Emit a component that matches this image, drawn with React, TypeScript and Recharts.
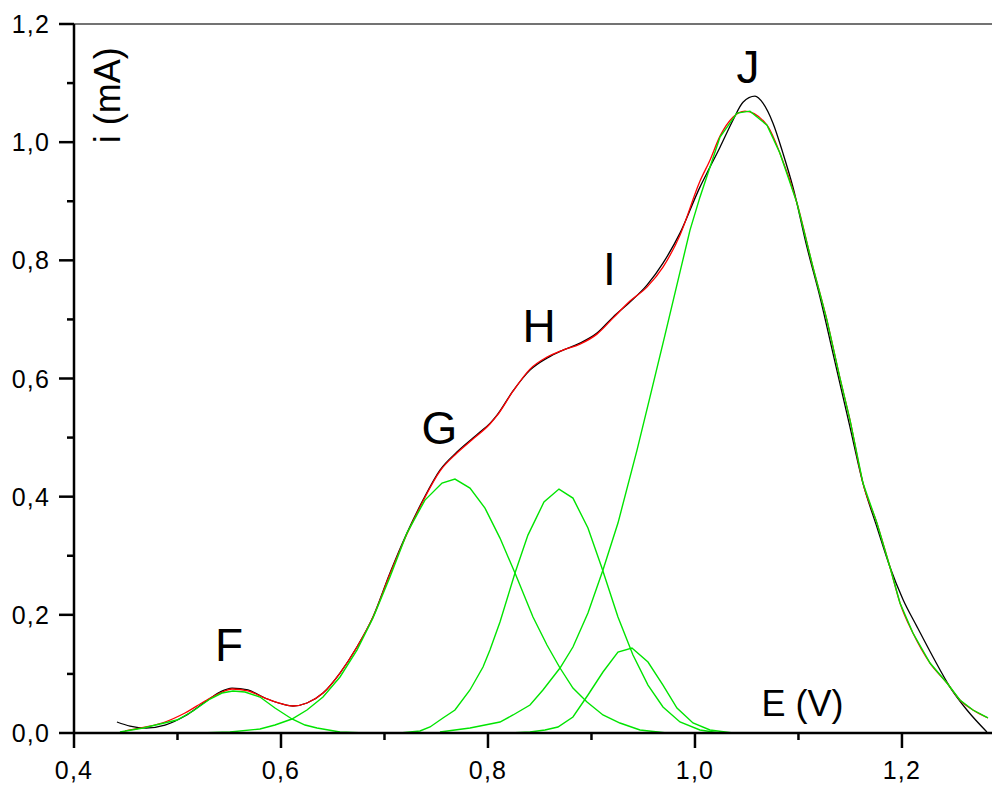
import { LineChart, Line, XAxis, YAxis, ReferenceLine, ReferenceDot } from 'recharts';

// tick positions
const xMajor = [0.4, 0.6, 0.8, 1.0, 1.2];
const xTicks = [0.4, 0.5, 0.6, 0.7, 0.8, 0.9, 1.0, 1.1, 1.2];
const yMajor = [0, 0.2, 0.4, 0.6, 0.8, 1.0, 1.2];
const yTicks = [0, 0.1, 0.2, 0.3, 0.4, 0.5, 0.6, 0.7, 0.8, 0.9, 1.0, 1.1, 1.2];

// experimental voltammogram (black)
const expE = [0.4415, 0.4541, 0.4696, 0.4879, 0.5072, 0.5266, 0.5411, 0.5527, 0.5681, 0.5845, 0.601, 0.6116, 0.6251, 0.6406, 0.657, 0.6734, 0.6889, 0.7053, 0.7217, 0.7372, 0.7536, 0.77, 0.7855, 0.7923, 0.8019, 0.8087, 0.8242, 0.8406, 0.857, 0.8725, 0.8889, 0.9053, 0.9208, 0.9372, 0.9536, 0.9691, 0.9855, 1.0048, 1.0145, 1.0242, 1.0367, 1.0464, 1.058, 1.0657, 1.0754, 1.085, 1.0947, 1.1082, 1.1208, 1.1333, 1.1498, 1.1623, 1.1758, 1.1884, 1.201, 1.2145, 1.23, 1.2464, 1.2628, 1.2821];
const expI = [0.0186, 0.0118, 0.0085, 0.0135, 0.0288, 0.0525, 0.0694, 0.0761, 0.0728, 0.0592, 0.0491, 0.0457, 0.0508, 0.0677, 0.1015, 0.1455, 0.1963, 0.2707, 0.3384, 0.3942, 0.445, 0.4755, 0.4992, 0.5093, 0.524, 0.538, 0.579, 0.6142, 0.6345, 0.6481, 0.6599, 0.6768, 0.7039, 0.7293, 0.758, 0.7953, 0.846, 0.9239, 0.9577, 0.9915, 1.0372, 1.0677, 1.0778, 1.066, 1.0321, 0.9814, 0.9239, 0.8223, 0.7377, 0.643, 0.5178, 0.423, 0.3486, 0.2809, 0.226, 0.18, 0.1286, 0.0778, 0.0389, 0.0017];

// fitted sum (red)
const fitE = [0.4493, 0.4696, 0.4879, 0.5072, 0.5266, 0.5411, 0.5527, 0.5681, 0.5845, 0.601, 0.6116, 0.6251, 0.6406, 0.657, 0.6734, 0.6889, 0.7053, 0.7217, 0.7372, 0.7536, 0.77, 0.7855, 0.8019, 0.8087, 0.8242, 0.8406, 0.857, 0.8725, 0.8889, 0.9053, 0.9208, 0.9372, 0.9536, 0.9691, 0.9855, 1.0048, 1.0145, 1.0242, 1.0367, 1.0483, 1.0696, 1.0821, 1.0986, 1.114, 1.1275, 1.1401, 1.1498, 1.1623, 1.1758, 1.1884, 1.1981, 1.2106, 1.2271, 1.2435, 1.256, 1.2686, 1.2831];
const fitI = [0.0034, 0.0102, 0.0186, 0.0338, 0.0541, 0.0677, 0.0745, 0.0711, 0.0592, 0.0491, 0.0457, 0.0508, 0.0677, 0.1015, 0.1455, 0.1963, 0.269, 0.3367, 0.3926, 0.4433, 0.4738, 0.4975, 0.523, 0.537, 0.5785, 0.6159, 0.6362, 0.6481, 0.6582, 0.6751, 0.7022, 0.731, 0.7547, 0.7885, 0.8426, 0.934, 0.9695, 1.0102, 1.0423, 1.0525, 1.0288, 0.9814, 0.8968, 0.7885, 0.6988, 0.6007, 0.5296, 0.423, 0.3553, 0.2809, 0.22, 0.1692, 0.1184, 0.0846, 0.0558, 0.0389, 0.0254];

// deconvoluted peaks (green)
const peakF_E = [0.4444, 0.4667, 0.4831, 0.4995, 0.515, 0.5314, 0.543, 0.5536, 0.5652, 0.5797, 0.5942, 0.6106, 0.6232, 0.6348, 0.657, 0.6812];
const peakF_I = [0.0017, 0.0085, 0.0152, 0.022, 0.0372, 0.0575, 0.0677, 0.0711, 0.0694, 0.0609, 0.0423, 0.0237, 0.0135, 0.0085, 0.0017, 0];

const peakG_E = [0.5217, 0.5507, 0.5797, 0.5942, 0.6106, 0.6251, 0.6406, 0.657, 0.6734, 0.6889, 0.7053, 0.7217, 0.7391, 0.7556, 0.7681, 0.7826, 0.7971, 0.8116, 0.8261, 0.8435, 0.857, 0.8696, 0.8821, 0.8957, 0.9111, 0.9275, 0.9469, 0.9729];
const peakG_I = [0, 0.0017, 0.0068, 0.0135, 0.0237, 0.0389, 0.0609, 0.0948, 0.1404, 0.1946, 0.264, 0.3384, 0.3942, 0.423, 0.4298, 0.4146, 0.3807, 0.3299, 0.2707, 0.1963, 0.1489, 0.11, 0.0761, 0.0525, 0.0305, 0.0169, 0.0051, 0];

const peakH_E = [0.715, 0.7343, 0.744, 0.7565, 0.7681, 0.7826, 0.7952, 0.8019, 0.8116, 0.8261, 0.8386, 0.8541, 0.8686, 0.8821, 0.8966, 0.9101, 0.9256, 0.9401, 0.9546, 0.9691, 0.9855, 1.0048, 1.0242];
const peakH_I = [0, 0.0034, 0.0102, 0.0254, 0.0389, 0.0728, 0.1117, 0.1404, 0.1878, 0.2707, 0.335, 0.3909, 0.4129, 0.3976, 0.3469, 0.2792, 0.1963, 0.132, 0.0812, 0.044, 0.0186, 0.0051, 0];

const peakI_E = [0.8213, 0.8406, 0.8551, 0.8676, 0.8821, 0.8966, 0.9111, 0.9256, 0.9391, 0.9546, 0.9691, 0.9826, 0.9981, 1.0145, 1.0367];
const peakI_I = [0, 0.0017, 0.0051, 0.0102, 0.0271, 0.0643, 0.1032, 0.1371, 0.1438, 0.1201, 0.0812, 0.0423, 0.0169, 0.0051, 0];

const peakJ_E = [0.7536, 0.7826, 0.8116, 0.8242, 0.8406, 0.8531, 0.8696, 0.8821, 0.8966, 0.9111, 0.9256, 0.944, 0.9565, 0.971, 0.9855, 0.9952, 1.0048, 1.0242, 1.0406, 1.0531, 1.0696, 1.0821, 1.0986, 1.114, 1.1275, 1.1401, 1.1498, 1.1623, 1.1758, 1.1884, 1.1981, 1.2106, 1.2271, 1.2435, 1.256, 1.2686, 1.2831];
const peakJ_I = [0.0017, 0.0085, 0.0186, 0.0305, 0.0474, 0.0728, 0.11, 0.1455, 0.203, 0.2758, 0.3553, 0.4788, 0.5685, 0.6734, 0.78, 0.8511, 0.9069, 1.0085, 1.0491, 1.0525, 1.0288, 0.9814, 0.8968, 0.7885, 0.6988, 0.6007, 0.5296, 0.423, 0.3553, 0.2809, 0.22, 0.1692, 0.1184, 0.0846, 0.0558, 0.0389, 0.0254];

// peak letters and axis titles (position in data units)
const peakLabels = ['F', 'G', 'H', 'I', 'J'];
const peakLabelE = [0.5498, 0.7531, 0.8493, 0.9174, 1.0512];
const peakLabelI = [0.1489, 0.5169, 0.6895, 0.7851, 1.1286];

const toPoints = (xs: number[], ys: number[]) => xs.map((x, i) => ({ x, y: ys[i] }));

const FONT = '"Liberation Sans", Arial, Helvetica, sans-serif';
const GREEN = '#00e400';

const fmt = (v: number) => v.toFixed(1).replace('.', ',');
const isMajor = (list: number[], v: number) => list.some(m => Math.abs(m - v) < 1e-6);

const XTick = ({ x, y, payload }: any) => {
  const major = isMajor(xMajor, payload.value);
  return (
    <g>
      <line x1={x} y1={y} x2={x} y2={y + (major ? 15 : 7)} stroke="#000" strokeWidth={2.5} />
      {major && (
        <text x={x} y={y + 46} textAnchor="middle" fontSize={25} letterSpacing={1.2} fontFamily={FONT} fill="#000">
          {fmt(payload.value)}
        </text>
      )}
    </g>
  );
};

const YTick = ({ x, y, payload }: any) => {
  const major = isMajor(yMajor, payload.value);
  return (
    <g>
      <line x1={x} y1={y} x2={x - (major ? 15 : 7)} y2={y} stroke="#000" strokeWidth={2.5} />
      {major && (
        <text x={x - 24} y={y + 9} textAnchor="end" fontSize={25} letterSpacing={1.2} fontFamily={FONT} fill="#000">
          {fmt(payload.value)}
        </text>
      )}
    </g>
  );
};

export default function App() {
  const expData = toPoints(expE, expI);
  const fitData = toPoints(fitE, fitI);
  const greens = [
    toPoints(peakF_E, peakF_I),
    toPoints(peakG_E, peakG_I),
    toPoints(peakH_E, peakH_I),
    toPoints(peakI_E, peakI_I),
    toPoints(peakJ_E, peakJ_I),
  ];

  return (
    <div style={{ position: 'absolute', left: 0, top: 0, width: 993, height: 787, background: '#fff' }}>
      <LineChart width={993} height={787} margin={{ top: 24, right: 1, bottom: 0, left: 0 }}>
        <XAxis
          type="number"
          dataKey="x"
          domain={[0.4, 1.287]}
          allowDataOverflow
          ticks={xTicks}
          interval={0}
          height={54}
          tickSize={0}
          tickMargin={0}
          tickLine={false}
          axisLine={{ stroke: '#000', strokeWidth: 2.5 }}
          tick={<XTick />}
        />
        <YAxis
          type="number"
          domain={[0, 1.2]}
          allowDataOverflow
          ticks={yTicks}
          interval={0}
          width={74}
          tickSize={0}
          tickMargin={0}
          tickLine={false}
          axisLine={{ stroke: '#000', strokeWidth: 2.5 }}
          tick={<YTick />}
        />
        <ReferenceLine y={1.2} stroke="#444" strokeWidth={1.5} />
        <Line data={expData} dataKey="y" type="monotone" stroke="#000" strokeWidth={1.3} dot={false} isAnimationActive={false} />
        <Line data={fitData} dataKey="y" type="monotone" stroke="#ff0000" strokeWidth={1.3} dot={false} isAnimationActive={false} />
        {greens.map((d, k) => (
          <Line key={k} data={d} dataKey="y" type="linear" stroke={GREEN} strokeWidth={1.4} dot={false} isAnimationActive={false} />
        ))}
        {peakLabels.map((t, k) => (
          <ReferenceDot
            key={t}
            x={peakLabelE[k]}
            y={peakLabelI[k]}
            r={0}
            fill="none"
            stroke="none"
            label={{ value: t, position: 'center', fontSize: 46, fill: '#000', fontFamily: FONT }}
          />
        ))}
        <ReferenceDot
          x={0.4319}
          y={1.0795}
          r={0}
          fill="none"
          stroke="none"
          label={{ value: 'i (mA)', position: 'center', angle: -90, fontSize: 36, fill: '#000', fontFamily: FONT }}
        />
        <ReferenceDot
          x={1.1039}
          y={0.0499}
          r={0}
          fill="none"
          stroke="none"
          label={{ value: 'E (V)', position: 'center', fontSize: 36, fill: '#000', fontFamily: FONT }}
        />
      </LineChart>
    </div>
  );
}
